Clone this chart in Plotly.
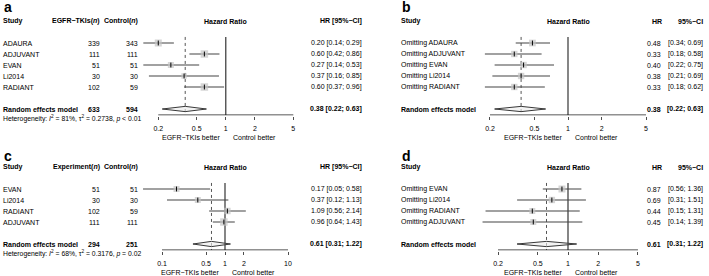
import math
import plotly.graph_objects as go

W, H = 709, 276
FONT = "Liberation Sans, Arial, Helvetica, sans-serif"
FS = 7

# ---------------- data ----------------
# panel a
a_studies = ["ADAURA", "ADJUVANT", "EVAN", "Li2014", "RADIANT"]
a_n_exp = [339, 111, 51, 30, 102]
a_n_ctl = [343, 111, 51, 30, 59]
a_hr = [0.20, 0.60, 0.27, 0.37, 0.60]
a_lo = [0.14, 0.42, 0.14, 0.16, 0.37]
a_hi = [0.29, 0.86, 0.53, 0.85, 0.96]
a_weight = [21.6, 24.7, 15.9, 13.2, 24.7]
a_pooled = [0.38, 0.22, 0.63]
a_totals = [633, 594]
a_het = ["81%", "0.2738", "<i>p</i> &lt; 0.01"]
a_ticks = [0.2, 0.5, 1, 2, 5]
a_ticktext = ["0.2", "0.5", "1", "2", "5"]

# panel b
b_studies = ["Omitting ADAURA", "Omitting ADJUVANT", "Omitting EVAN", "Omitting Li2014", "Omitting RADIANT"]
b_hr = [0.48, 0.33, 0.40, 0.38, 0.33]
b_lo = [0.34, 0.18, 0.22, 0.21, 0.18]
b_hi = [0.69, 0.58, 0.75, 0.69, 0.62]
b_weight = [22, 20, 20, 20, 20]
b_pooled = [0.38, 0.22, 0.63]
b_ticks = [0.2, 0.5, 1, 2, 5]
b_ticktext = ["0.2", "0.5", "1", "2", "5"]

# panel c
c_studies = ["EVAN", "Li2014", "RADIANT", "ADJUVANT"]
c_n_exp = [51, 30, 102, 111]
c_n_ctl = [51, 30, 59, 111]
c_hr = [0.17, 0.37, 1.09, 0.96]
c_lo = [0.05, 0.12, 0.56, 0.64]
c_hi = [0.58, 1.13, 2.14, 1.43]
c_weight = [21.6, 21.6, 25.3, 33.7]
c_pooled = [0.61, 0.31, 1.22]
c_totals = [294, 251]
c_het = ["68%", "0.3176", "<i>p</i> = 0.02"]
c_ticks = [0.1, 0.5, 1, 2, 10]
c_ticktext = ["0.1", "0.5", "1", "2", "10"]

# panel d
d_studies = ["Omitting EVAN", "Omitting Li2014", "Omitting RADIANT", "Omitting ADJUVANT"]
d_hr = [0.87, 0.69, 0.44, 0.45]
d_lo = [0.56, 0.31, 0.15, 0.14]
d_hi = [1.36, 1.51, 1.31, 1.39]
d_weight = [30, 25, 22, 22]
d_pooled = [0.61, 0.31, 1.22]
d_ticks = [0.2, 0.5, 1, 2, 5]
d_ticktext = ["0.2", "0.5", "1", "2", "5"]

# ---------------- helpers ----------------
fig = go.Figure()
annotations = []
layout_axes = {}


def px_x(p):
    return p / W


def px_y(p):
    return 1 - p / H


def f2(v):
    return f"{v:.2f}"


def add_text(x_px, y, text, anchor, yref, bold=False, size=FS, yanchor="middle"):
    annotations.append(dict(
        x=px_x(x_px), xref="paper", y=y, yref=yref,
        text=f"<b>{text}</b>" if bold else text,
        xanchor=anchor, yanchor=yanchor, showarrow=False,
        font=dict(family=FONT, size=size, color="black"),
        borderpad=0,
    ))


def panel(idx, letter, letter_px, header_px, left_px, studies, hr, lo, hi, weight, pooled,
          ticks, ticktext, c1, kpx, dom, max_box, kind,
          n_exp=None, n_ctl=None, totals=None, het=None, exp_label=None):
    xa = f"x{idx}"
    ya = f"y{idx}"
    n = len(studies)
    row_px = lambda r: header_px + 22 + 11 * r
    px_row = lambda p: (p - header_px - 22) / 11.0
    rand_row = n + 1
    axis_px = row_px(rand_row) + 6
    axis_row = px_row(axis_px)
    top_px = header_px - 12
    bottom_px = axis_px + 0.6

    xkey = "xaxis" if idx == 1 else f"xaxis{idx}"
    ykey = "yaxis" if idx == 1 else f"yaxis{idx}"
    layout_axes[xkey] = dict(
        type="log", domain=[px_x(dom[0]), px_x(dom[1])],
        range=[(dom[0] - c1) / kpx, (dom[1] - c1) / kpx],
        anchor=ya, showgrid=False, zeroline=False, showline=False,
        tickvals=ticks, ticktext=ticktext, ticks="outside", ticklen=3,
        tickwidth=0.8, tickcolor="#222",
        tickfont=dict(family=FONT, size=FS, color="black"),
        ticklabelstandoff=3,
    )
    layout_axes[ykey] = dict(
        domain=[px_y(bottom_px), px_y(top_px)],
        range=[px_row(bottom_px), px_row(top_px)],
        anchor=xa, visible=False, showgrid=False, zeroline=False,
    )

    line_top = -0.55
    # vertical reference lines
    fig.add_trace(go.Scatter(x=[1, 1], y=[line_top, axis_row], mode="lines",
                             line=dict(color="#222", width=1.1), xaxis=xa, yaxis=ya,
                             hoverinfo="skip", showlegend=False))
    fig.add_trace(go.Scatter(x=[pooled[0], pooled[0]], y=[line_top, axis_row], mode="lines",
                             line=dict(color="#555", width=1, dash="dot"), xaxis=xa, yaxis=ya,
                             hoverinfo="skip", showlegend=False))
    # axis line
    fig.add_trace(go.Scatter(x=[ticks[0], ticks[-1]], y=[axis_row, axis_row], mode="lines",
                             line=dict(color="#222", width=1), xaxis=xa, yaxis=ya,
                             hoverinfo="skip", showlegend=False))
    # CIs and boxes
    wmax = max(weight)
    for i in range(n):
        fig.add_trace(go.Scatter(x=[lo[i], hi[i]], y=[i, i], mode="lines",
                                 line=dict(color="#444", width=1.1), xaxis=xa, yaxis=ya,
                                 hoverinfo="skip", showlegend=False))
    sizes = [max_box * math.sqrt(w / wmax) for w in weight]
    fig.add_trace(go.Scatter(x=hr, y=list(range(n)), mode="markers",
                             marker=dict(symbol="square", size=sizes, color="#c4c4c4",
                                         line=dict(width=0)),
                             xaxis=xa, yaxis=ya, hoverinfo="skip", showlegend=False,
                             cliponaxis=False))
    fig.add_trace(go.Scatter(x=hr, y=list(range(n)), mode="markers",
                             marker=dict(symbol="line-ns", size=3.5,
                                         line=dict(width=1, color="black")),
                             xaxis=xa, yaxis=ya, hoverinfo="skip", showlegend=False,
                             cliponaxis=False))
    # diamond
    hh = 0.24
    est, plo, phi = pooled
    fig.add_trace(go.Scatter(x=[plo, est, phi, est, plo],
                             y=[rand_row, rand_row - hh, rand_row, rand_row + hh, rand_row],
                             mode="lines", fill="toself", fillcolor="rgba(235,235,235,0.6)",
                             line=dict(color="#222", width=0.9), xaxis=xa, yaxis=ya,
                             hoverinfo="skip", showlegend=False))

    # texts
    annotations.append(dict(x=px_x(left_px + 1), xref="paper", y=px_y(letter_px), yref="paper",
                            text=f"<b>{letter}</b>", xanchor="left", yanchor="middle",
                            showarrow=False, font=dict(family=FONT, size=14, color="black"),
                            borderpad=0))
    add_text(left_px, -2, "Study", "left", ya, bold=True)
    add_text(c1, -2, "Hazard Ratio", "center", ya, bold=True)
    for i in range(n):
        add_text(left_px, i, studies[i], "left", ya)
    add_text(left_px, rand_row, "Random effects model", "left", ya, bold=True)

    if kind == "table":
        add_text(101, -2, f"{exp_label}(<i>n</i>)", "right", ya, bold=True)
        add_text(138.5, -2, "Control(<i>n</i>)", "right", ya, bold=True)
        add_text(363, -2, "HR [95%\u2212CI]", "right", ya, bold=True)
        for i in range(n):
            add_text(101, i, str(n_exp[i]), "right", ya)
            add_text(138.5, i, str(n_ctl[i]), "right", ya)
            add_text(363, i, f"{f2(hr[i])} [{f2(lo[i])}; {f2(hi[i])}]", "right", ya)
        add_text(101, rand_row, str(totals[0]), "right", ya, bold=True)
        add_text(138.5, rand_row, str(totals[1]), "right", ya, bold=True)
        add_text(363, rand_row, f"{f2(est)} [{f2(plo)}; {f2(phi)}]", "right", ya, bold=True)
        annotations.append(dict(
            x=px_x(left_px), xref="paper", y=px_y(row_px(rand_row) + 9.5), yref="paper",
            text=(f"Heterogeneity: <i>I</i><sup>2</sup> = {het[0]}, "
                  f"\u03c4<sup>2</sup> = {het[1]}, {het[2]}"),
            xanchor="left", yanchor="middle", showarrow=False,
            font=dict(family=FONT, size=6.8, color="black"), borderpad=0))
    else:
        add_text(663, -2, "HR", "right", ya, bold=True)
        add_text(704, -2, "95%\u2212CI", "right", ya, bold=True)
        for i in range(n):
            add_text(662, i, f2(hr[i]), "right", ya)
            add_text(704, i, f"[{f2(lo[i])}; {f2(hi[i])}]", "right", ya)
        add_text(662, rand_row, f2(est), "right", ya, bold=True)
        add_text(704, rand_row, f"[{f2(plo)}; {f2(phi)}]", "right", ya, bold=True)

    # favour labels
    annotations.append(dict(x=px_x(c1 - 5), xref="paper", y=px_y(axis_px + 22), yref="paper",
                            text="EGFR\u2212TKIs better", xanchor="right", yanchor="middle",
                            showarrow=False, font=dict(family=FONT, size=FS, color="black"),
                            borderpad=0))
    annotations.append(dict(x=px_x(c1 + 6), xref="paper", y=px_y(axis_px + 22), yref="paper",
                            text="Control better", xanchor="left", yanchor="middle",
                            showarrow=False, font=dict(family=FONT, size=FS, color="black"),
                            borderpad=0))


panel(1, "a", 7, 21, 2, a_studies, a_hr, a_lo, a_hi, a_weight, a_pooled,
      a_ticks, a_ticktext, 225.8, 96.6, (133, 300), 7.5, "table",
      n_exp=a_n_exp, n_ctl=a_n_ctl, totals=a_totals, het=a_het, exp_label="EGFR\u2212TKIs")
panel(2, "b", 7, 21, 400, b_studies, b_hr, b_lo, b_hi, b_weight, b_pooled,
      b_ticks, b_ticktext, 568, 111.6, (470, 650), 6.7, "loo")
panel(3, "c", 156, 167, 2, c_studies, c_hr, c_lo, c_hi, c_weight, c_pooled,
      c_ticks, c_ticktext, 225, 63, (133, 300), 7.5, "table",
      n_exp=c_n_exp, n_ctl=c_n_ctl, totals=c_totals, het=c_het, exp_label="Experiment")
panel(4, "d", 156, 167, 400, d_studies, d_hr, d_lo, d_hi, d_weight, d_pooled,
      d_ticks, d_ticktext, 568, 100.1, (470, 650), 7, "loo")

fig.update_layout(
    width=W, height=H, margin=dict(l=0, r=0, t=0, b=0),
    paper_bgcolor="white", plot_bgcolor="rgba(0,0,0,0)",
    showlegend=False, annotations=annotations,
    font=dict(family=FONT, size=FS, color="black"),
    **layout_axes,
)

fig.write_html("out.html", config={"displayModeBar": False, "staticPlot": True},
               post_script="document.body.style.margin='0px';document.body.style.overflow='hidden';")
